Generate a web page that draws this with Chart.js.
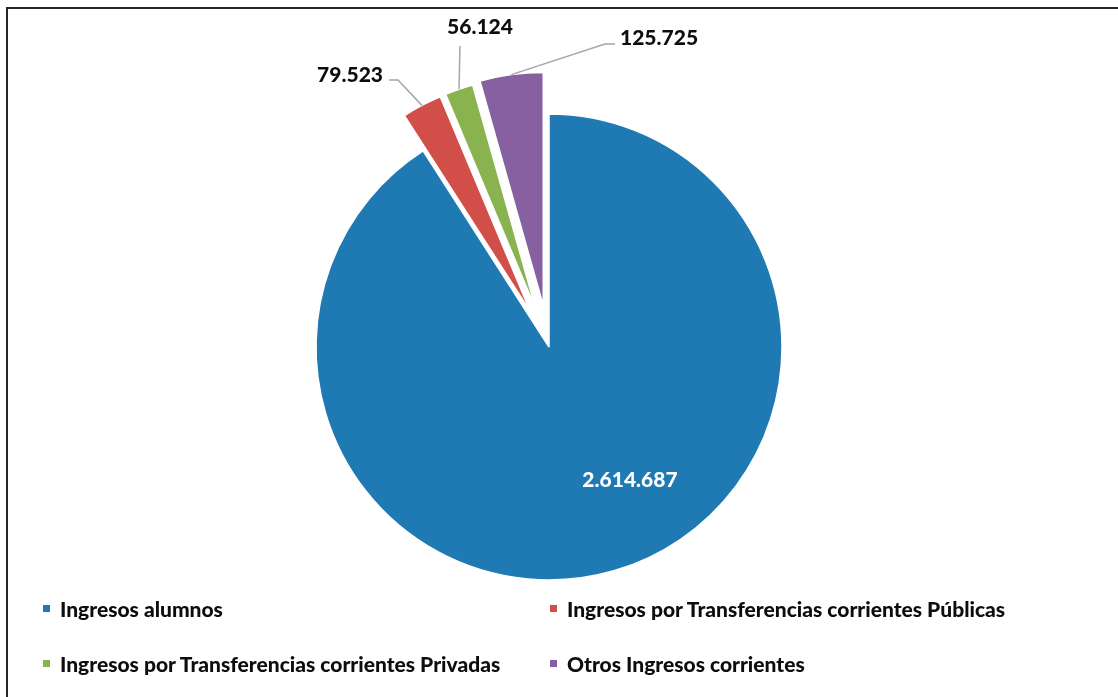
<!DOCTYPE html>
<html><head><meta charset="utf-8">
<script src="https://cdn.jsdelivr.net/npm/chart.js@4.4.0/dist/chart.umd.min.js"></script>
<style>
html,body{margin:0;padding:0;background:#fff;}
#wrap{position:relative;width:1118px;height:697px;overflow:hidden;background:#fff;}
#frame{position:absolute;left:6px;top:7px;width:1300px;height:900px;border-top:2px solid #262626;border-left:2px solid #262626;}
canvas{position:absolute;left:0;top:0;}
#legend{position:absolute;left:0;top:0;font-family:Lato,'Open Sans',sans-serif;font-weight:900;font-size:21px;color:#0d0d0d;}
.item{position:absolute;white-space:nowrap;display:flex;align-items:center;height:30px;}
.sw{width:7px;height:7px;margin-right:10px;}
</style></head>
<body><div id="wrap"><div id="frame"></div><canvas id="c" width="1118" height="697"></canvas><div id="legend"></div></div>
<script>
// ---- data ----
const categories = [
  'Ingresos alumnos',
  'Ingresos por Transferencias corrientes Públicas',
  'Ingresos por Transferencias corrientes Privadas',
  'Otros Ingresos corrientes'
];
const values = [2614687, 79523, 56124, 125725];
const valueLabels = ['2.614.687', '79.523', '56.124', '125.725'];

// ---- styling ----
const colors = ['#1f7ab4', '#d24f49', '#89b34e', '#8660a0'];
const explodeDist = [0, 40, 40, 42];
const R = 233;
const legendCols = [43, 550];
const legendRows = [608, 663];
// label placement relative to pie centre: text point, align, leader elbow, leader end
const labelLayout = [
  {tx: 81, ty: 133, align: 'center', color: '#ffffff'},
  {tx: -166, ty: -272, align: 'right', color: '#0d0d0d', pts: [[-151, -267], [-160, -267]]},
  {tx: -69, ty: -320, align: 'center', color: '#0d0d0d', pts: [[-89, -301]]},
  {tx: 71, ty: -309, align: 'left', color: '#0d0d0d', pts: [[56, -303], [66, -303]]}
];

let pieCenter = {x: 0, y: 0};

// explode slices: move each slice outward along its mid angle
const explode = {
  id: 'explode',
  afterDatasetsUpdate(chart) {
    const meta = chart.getDatasetMeta(0);
    pieCenter = {x: meta.data[0].x, y: meta.data[0].y};
    meta.data.forEach((arc, i) => {
      const d = explodeDist[i];
      if (d) {
        const mid = (arc.startAngle + arc.endAngle) / 2;
        arc.x = pieCenter.x + Math.cos(mid) * d;
        arc.y = pieCenter.y + Math.sin(mid) * d;
      }
    });
  }
};

const sliceLabels = {
  id: 'sliceLabels',
  afterDatasetsDraw(chart) {
    const ctx = chart.ctx;
    const meta = chart.getDatasetMeta(0);
    const cx = pieCenter.x, cy = pieCenter.y;
    ctx.save();
    ctx.font = '900 21px Lato, "Open Sans", sans-serif';
    ctx.textBaseline = 'middle';
    meta.data.forEach((arc, i) => {
      const L = labelLayout[i];
      const mid = (arc.startAngle + arc.endAngle) / 2;
      if (L.pts) {
        const ox = arc.x + Math.cos(mid) * arc.outerRadius;
        const oy = arc.y + Math.sin(mid) * arc.outerRadius;
        ctx.beginPath();
        ctx.strokeStyle = '#a6a6a6';
        ctx.lineWidth = 1.5;
        ctx.moveTo(ox, oy);
        L.pts.forEach(p => ctx.lineTo(cx + p[0], cy + p[1]));
        ctx.stroke();
      }
      ctx.fillStyle = L.color;
      ctx.textAlign = L.align;
      ctx.fillText(valueLabels[i], cx + L.tx, cy + L.ty);
    });
    ctx.restore();
  }
};

new Chart(document.getElementById('c'), {
  type: 'pie',
  data: {
    labels: categories,
    datasets: [{
      data: values,
      backgroundColor: colors,
      borderColor: '#ffffff',
      borderWidth: 1.5
    }]
  },
  options: {
    responsive: false,
    animation: false,
    events: [],
    radius: R,
    layout: {padding: {left: 0, right: 20, top: 0, bottom: 3}},
    plugins: {legend: {display: false}, tooltip: {enabled: false}}
  },
  plugins: [explode, sliceLabels]
});

// HTML legend
const lg = document.getElementById('legend');
categories.forEach((c, i) => {
  const d = document.createElement('div');
  d.className = 'item';
  d.style.left = legendCols[i % 2] + 'px';
  d.style.top = (legendRows[Math.floor(i / 2)] - 15) + 'px';
  const s = document.createElement('span');
  s.className = 'sw';
  s.style.background = colors[i];
  const t = document.createElement('span');
  t.textContent = c;
  d.appendChild(s); d.appendChild(t);
  lg.appendChild(d);
});
</script>
</body></html>
